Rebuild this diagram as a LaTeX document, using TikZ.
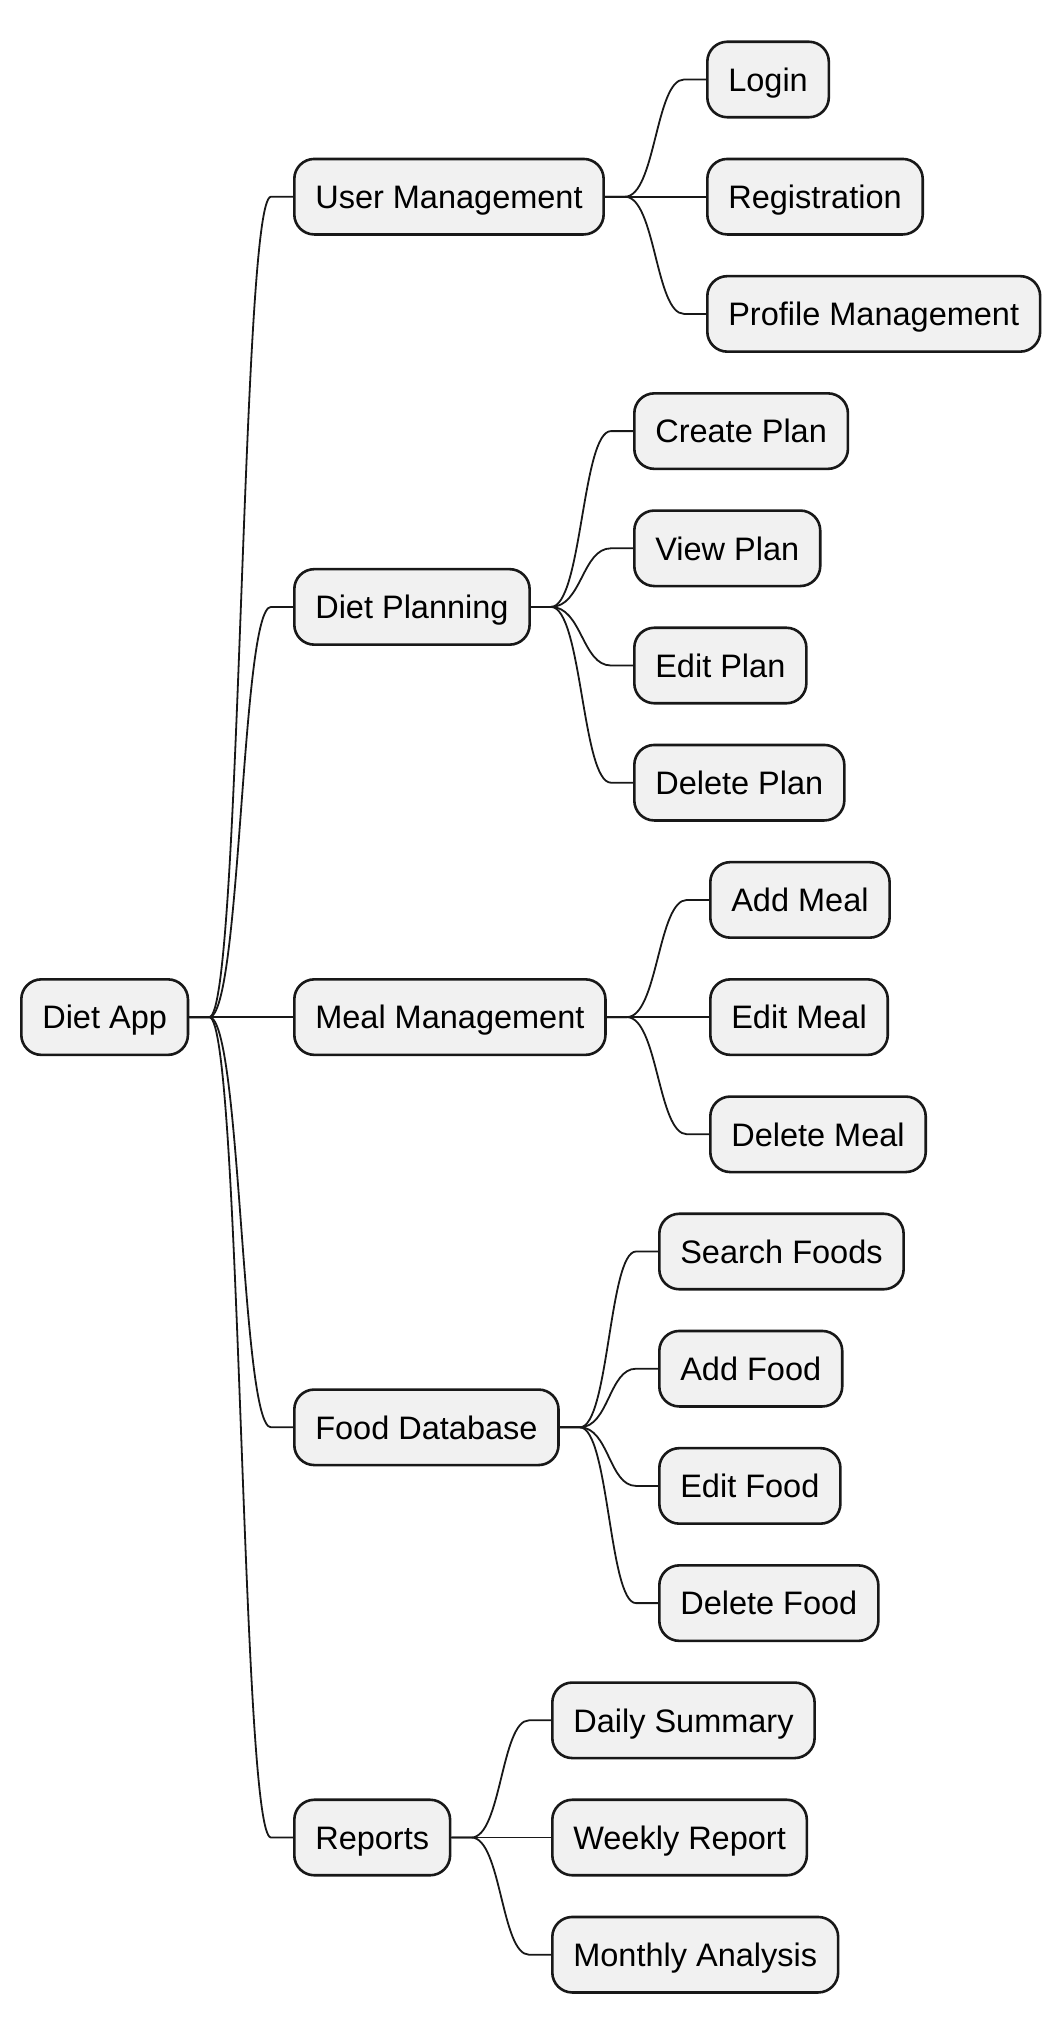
\documentclass[tikz,border=0pt]{standalone}
\usepackage{xcolor}
\usepackage{fontspec}
\setmainfont{Liberation Sans}
\usepackage{tikz}
\usetikzlibrary{calc}

\definecolor{boxfill}{HTML}{F1F1F1}
\definecolor{boxline}{HTML}{181818}

\begin{document}
\begin{tikzpicture}[x=1pt, y=-1pt,
    topic/.style={draw=boxline, fill=boxfill, line width=2.6pt, rounded corners=20pt,
      anchor=west, inner xsep=21pt, minimum height=75.5pt, text height=28pt, text depth=4.6pt,
      font=\fontsize{32.5}{39}\selectfont},
    link/.style={draw=boxline, line width=1.8pt}]
		% fix the page
		\useasboundingbox (0,0) rectangle (1064,2039);
		% root and main branches
		\node[topic] (app) at (20,1017.1) {Diet App};
		\node[topic] (user) at (293,196.7) {User Management};
		\node[topic] (plan) at (293,606.9) {Diet Planning};
		\node[topic] (meal) at (293,1017.1) {Meal Management};
		\node[topic] (food) at (293,1427.3) {Food Database};
		\node[topic] (rep) at (293,1837.5) {Reports};
		% leaves
		\node[topic] (login) at (706,79.5) {Login};
		\node[topic] (reg) at (706,196.7) {Registration};
		\node[topic] (prof) at (706,313.9) {Profile Management};
		\node[topic] (create) at (633,431.1) {Create Plan};
		\node[topic] (view) at (633,548.3) {View Plan};
		\node[topic] (editplan) at (633,665.5) {Edit Plan};
		\node[topic] (delplan) at (633,782.7) {Delete Plan};
		\node[topic] (addmeal) at (709,899.9) {Add Meal};
		\node[topic] (editmeal) at (709,1017.1) {Edit Meal};
		\node[topic] (delmeal) at (709,1134.3) {Delete Meal};
		\node[topic] (search) at (658,1251.5) {Search Foods};
		\node[topic] (addfood) at (658,1368.7) {Add Food};
		\node[topic] (editfood) at (658,1485.9) {Edit Food};
		\node[topic] (delfood) at (658,1603.1) {Delete Food};
		\node[topic] (daily) at (551,1720.3) {Daily Summary};
		\node[topic] (weekly) at (551,1837.5) {Weekly Report};
		\node[topic] (monthly) at (551,1954.7) {Monthly Analysis};
		% connect the branches
		\foreach \pa/\ch in {app/user, app/plan, app/meal, app/food, app/rep,
		    user/login, user/reg, user/prof,
		    plan/create, plan/view, plan/editplan, plan/delplan,
		    meal/addmeal, meal/editmeal, meal/delmeal,
		    food/search, food/addfood, food/editfood, food/delfood,
		    rep/daily, rep/weekly, rep/monthly}
			\draw[link] let \p1=(\pa.east), \p2=(\ch.west), \n1={0.5*(\x1+\x2)} in
			  (\p1) -- (\x1+20pt,\y1) .. controls (\n1,\y1) and (\n1,\y2) .. (\x2-22pt,\y2) -- (\p2);
	\end{tikzpicture}
\end{document}
